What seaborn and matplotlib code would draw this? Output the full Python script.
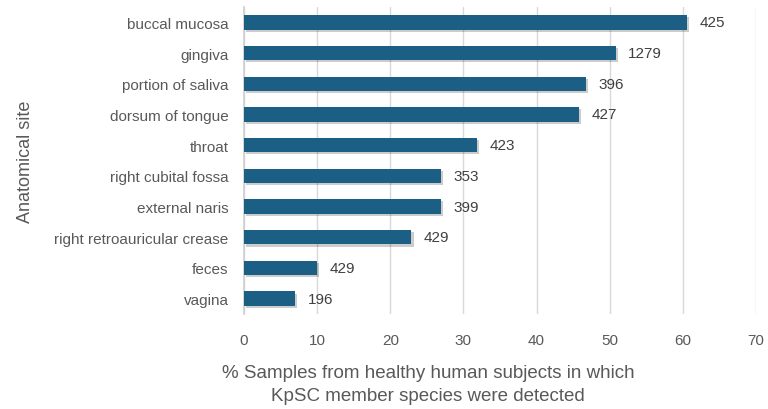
import matplotlib
matplotlib.use("Agg")
import matplotlib.pyplot as plt
import matplotlib.patheffects as pe
import seaborn as sns
import pandas as pd

sites = ["buccal mucosa", "gingiva", "portion of saliva", "dorsum of tongue", "throat",
         "right cubital fossa", "external naris", "right retroauricular crease", "feces", "vagina"]
percent = [60.6, 50.8, 46.8, 45.8, 31.9, 26.9, 26.9, 22.9, 10.0, 7.0]
n_samples = [425, 1279, 396, 427, 423, 353, 399, 429, 429, 196]
xticks = [0, 10, 20, 30, 40, 50, 60, 70]

df = pd.DataFrame({"site": sites, "pct": percent, "n": n_samples})

sns.set_theme(style="white")
plt.rcParams["font.family"] = ["Liberation Sans", "DejaVu Sans"]
txt = "#595959"

fig = plt.figure(figsize=(7.68, 4.10), dpi=100)
ax = fig.add_axes([244/768, 1-315/410, (756-244)/768, (315-8)/410])

sns.barplot(data=df, x="pct", y="site", color="#1c5f84", saturation=1, width=0.47,
            linewidth=0, ax=ax, zorder=3)
for p in ax.patches:
    p.set_path_effects([pe.SimplePatchShadow(offset=(1.5, -1.5), shadow_rgbFace="#000000", alpha=0.2), pe.Normal()])

for i, (v, n) in enumerate(zip(percent, n_samples)):
    ax.text(v + 1.7, i, str(n), va="center", ha="left", fontsize=11, color="#404040")

ax.set_xlim(0, 70)
ax.set_ylim(9.5, -0.5)
ax.set_xticks(xticks)
ax.grid(axis="x", color="#d9d9d9", linewidth=1, zorder=0)
ax.grid(axis="y", visible=False)
for s in ["top", "right", "bottom"]:
    ax.spines[s].set_visible(False)
ax.spines["left"].set_color("#d0d0d0")
ax.tick_params(axis="x", labelsize=11, labelcolor=txt, length=0, pad=14)
ax.tick_params(axis="y", labelsize=11, labelcolor=txt, length=0, pad=11)
ax.set_xlabel("")
fig.text(428/768, 1-385/410, "% Samples from healthy human subjects in which\nKpSC member species were detected",
         fontsize=13.5, color=txt, ha="center", va="center", linespacing=1.45)
ax.set_ylabel("Anatomical site", fontsize=13, color=txt)
ax.yaxis.set_label_coords(-0.41, 0.5)

fig.savefig("out.png", dpi=100)
